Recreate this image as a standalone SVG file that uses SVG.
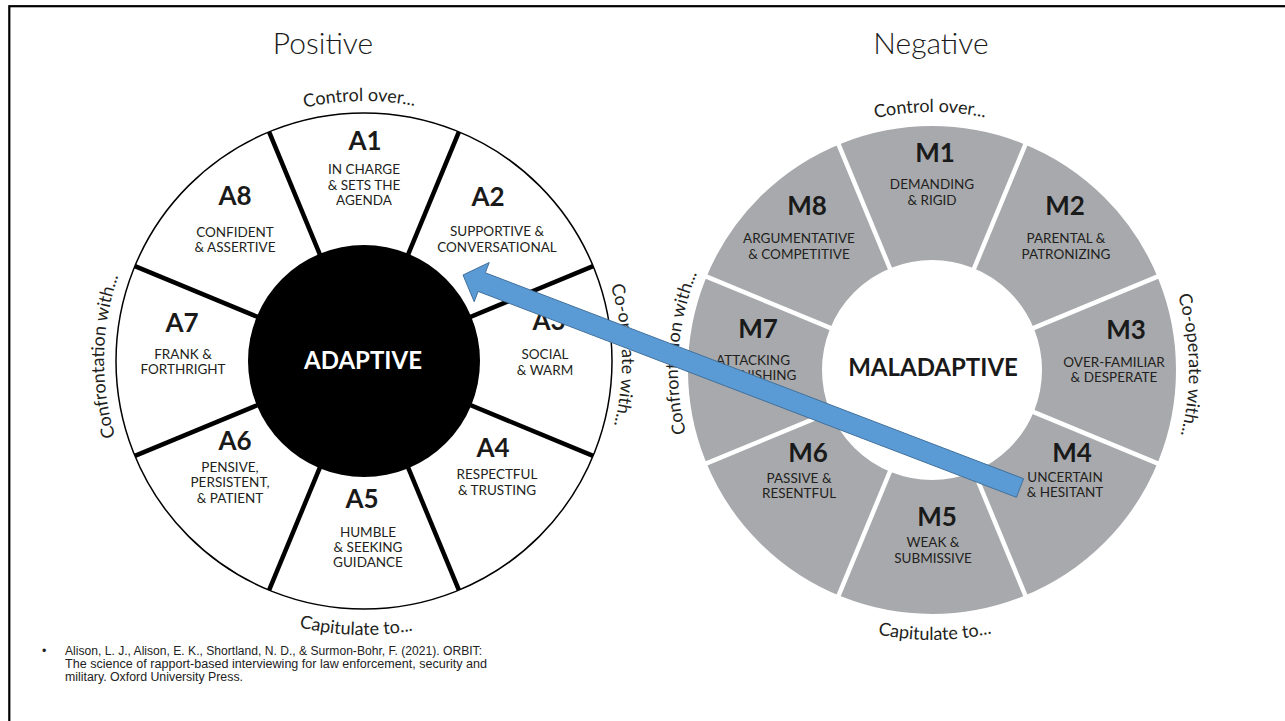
<svg xmlns="http://www.w3.org/2000/svg" width="1285" height="721" viewBox="0 0 1285 721">
<style>
text{font-family:Lato,"Noto Sans","Liberation Sans",sans-serif}
.title{font-size:30px;font-weight:300;fill:#1a1a1a;text-anchor:middle}
.arc{font-size:18px;fill:#231f20}
.code{font-size:26px;font-weight:700;text-anchor:middle;fill:#1a1a1a}
.desc{font-size:13.5px;text-anchor:middle;fill:#231f20}
.core{font-size:24px;font-weight:700;text-anchor:middle}
.cite{font-family:"Liberation Sans",Arial,sans-serif;font-size:12.5px;fill:#222}
.div{stroke:#000;stroke-width:4.5}
.gap{stroke:#fff;stroke-width:4.5}
</style>
<defs>
<path id="pTopL" d="M136.6,235.0 A260,260 0 0 1 586.9,227.1"/>
<path id="pRightL" d="M487.9,134.7 A258,258 0 0 1 498.0,581.5"/>
<path id="pBotL" d="M122.7,490.9 A274,274 0 0 0 597.1,505.0"/>
<path id="pLeftL" d="M229.7,583.6 A260,260 0 0 1 238.3,133.4"/>
<path id="pTopR" d="M707.6,242.6 A258,258 0 0 1 1154.5,239.5"/>
<path id="pRightR" d="M1056.2,145.0 A257,257 0 0 1 1064.7,590.1"/>
<path id="pBotR" d="M699.6,507.4 A270,270 0 0 0 1167.2,502.5"/>
<path id="pLeftR" d="M790.0,580.6 A254,254 0 0 1 820.6,141.7"/>
</defs>

<rect x="9.3" y="6.2" width="1300" height="730" fill="none" stroke="#000" stroke-width="2.2"/>

<text class="title" x="323" y="54">Positive</text>
<text class="title" x="931" y="54">Negative</text>

<!-- Positive wheel -->
<g id="wheel-positive">
<circle cx="364" cy="361" r="248" fill="#fff" stroke="#000" stroke-width="1.5"/>
<g transform="translate(364,361)">
<line class="div" x1="0" y1="-100" x2="0" y2="-248" transform="rotate(-22.5)"/>
<line class="div" x1="0" y1="-100" x2="0" y2="-248" transform="rotate(22.5)"/>
<line class="div" x1="0" y1="-100" x2="0" y2="-248" transform="rotate(67.5)"/>
<line class="div" x1="0" y1="-100" x2="0" y2="-248" transform="rotate(112.5)"/>
<line class="div" x1="0" y1="-100" x2="0" y2="-248" transform="rotate(157.5)"/>
<line class="div" x1="0" y1="-100" x2="0" y2="-248" transform="rotate(-157.5)"/>
<line class="div" x1="0" y1="-100" x2="0" y2="-248" transform="rotate(-112.5)"/>
<line class="div" x1="0" y1="-100" x2="0" y2="-248" transform="rotate(-67.5)"/>
</g>
<text class="arc"><textPath href="#pTopL" startOffset="50%" text-anchor="middle">Control over...</textPath></text>
<text class="arc"><textPath href="#pRightL" startOffset="50%" text-anchor="middle">Co-operate with...</textPath></text>
<text class="arc"><textPath href="#pBotL" startOffset="50%" text-anchor="middle">Capitulate to...</textPath></text>
<text class="arc"><textPath href="#pLeftL" startOffset="50%" text-anchor="middle">Confrontation with...</textPath></text>
</g>
<g id="ADAPTIVE">
<circle cx="364" cy="361" r="116" fill="#000"/>
<text class="core" x="363" y="369" fill="#fff">ADAPTIVE</text>
</g>
<g id="A1"><text class="code" x="365" y="150">A1</text><text class="desc" x="364" y="174">IN CHARGE</text><text class="desc" x="364" y="190">&amp; SETS THE</text><text class="desc" x="364" y="205">AGENDA</text></g>
<g id="A2"><text class="code" x="488" y="206">A2</text><text class="desc" x="497" y="236">SUPPORTIVE &amp;</text><text class="desc" x="497" y="252">CONVERSATIONAL</text></g>
<g id="A3"><text class="code" x="549" y="330">A3</text><text class="desc" x="545" y="359">SOCIAL</text><text class="desc" x="545" y="375">&amp; WARM</text></g>
<g id="A4"><text class="code" x="493" y="457">A4</text><text class="desc" x="497" y="479">RESPECTFUL</text><text class="desc" x="497" y="495">&amp; TRUSTING</text></g>
<g id="A5"><text class="code" x="362" y="508">A5</text><text class="desc" x="368" y="537">HUMBLE</text><text class="desc" x="368" y="552">&amp; SEEKING</text><text class="desc" x="368" y="567">GUIDANCE</text></g>
<g id="A6"><text class="code" x="235" y="450">A6</text><text class="desc" x="230" y="472">PENSIVE,</text><text class="desc" x="230" y="487">PERSISTENT,</text><text class="desc" x="230" y="503">&amp; PATIENT</text></g>
<g id="A7"><text class="code" x="182" y="332">A7</text><text class="desc" x="183" y="359">FRANK &amp;</text><text class="desc" x="183" y="374">FORTHRIGHT</text></g>
<g id="A8"><text class="code" x="235" y="205">A8</text><text class="desc" x="235" y="237">CONFIDENT</text><text class="desc" x="235" y="252">&amp; ASSERTIVE</text></g>

<!-- Negative wheel -->
<g id="wheel-negative">
<circle cx="932" cy="370" r="177" fill="none" stroke="#a7a9ac" stroke-width="134"/>
<g transform="translate(932,370)">
<line class="gap" x1="0" y1="-105" x2="0" y2="-248" transform="rotate(-22.5)"/>
<line class="gap" x1="0" y1="-105" x2="0" y2="-248" transform="rotate(22.5)"/>
<line class="gap" x1="0" y1="-105" x2="0" y2="-248" transform="rotate(67.5)"/>
<line class="gap" x1="0" y1="-105" x2="0" y2="-248" transform="rotate(112.5)"/>
<line class="gap" x1="0" y1="-105" x2="0" y2="-248" transform="rotate(157.5)"/>
<line class="gap" x1="0" y1="-105" x2="0" y2="-248" transform="rotate(-157.5)"/>
<line class="gap" x1="0" y1="-105" x2="0" y2="-248" transform="rotate(-112.5)"/>
<line class="gap" x1="0" y1="-105" x2="0" y2="-248" transform="rotate(-67.5)"/>
</g>
<text class="arc"><textPath href="#pTopR" startOffset="50%" text-anchor="middle">Control over...</textPath></text>
<text class="arc"><textPath href="#pRightR" startOffset="50%" text-anchor="middle">Co-operate with...</textPath></text>
<text class="arc"><textPath href="#pBotR" startOffset="50%" text-anchor="middle">Capitulate to...</textPath></text>
<text class="arc"><textPath href="#pLeftR" startOffset="50%" text-anchor="middle">Confrontation with...</textPath></text>
</g>
<g id="MALADAPTIVE"><text class="core" x="933" y="376" fill="#1a1a1a">MALADAPTIVE</text></g>
<g id="M1"><text class="code" x="935" y="162">M1</text><text class="desc" x="932" y="189">DEMANDING</text><text class="desc" x="932" y="205">&amp; RIGID</text></g>
<g id="M2"><text class="code" x="1065" y="215">M2</text><text class="desc" x="1066" y="243">PARENTAL &amp;</text><text class="desc" x="1066" y="259">PATRONIZING</text></g>
<g id="M3"><text class="code" x="1126" y="339">M3</text><text class="desc" x="1114" y="367">OVER-FAMILIAR</text><text class="desc" x="1114" y="382">&amp; DESPERATE</text></g>
<g id="M4"><text class="code" x="1072" y="462">M4</text><text class="desc" x="1065" y="482">UNCERTAIN</text><text class="desc" x="1065" y="497">&amp; HESITANT</text></g>
<g id="M5"><text class="code" x="937" y="526">M5</text><text class="desc" x="933" y="547">WEAK &amp;</text><text class="desc" x="933" y="563">SUBMISSIVE</text></g>
<g id="M6"><text class="code" x="808" y="462">M6</text><text class="desc" x="799" y="483">PASSIVE &amp;</text><text class="desc" x="799" y="498">RESENTFUL</text></g>
<g id="M7"><text class="code" x="758" y="338">M7</text><text class="desc" x="753" y="365">ATTACKING</text><text class="desc" x="753" y="380">&amp; PUNISHING</text></g>
<g id="M8"><text class="code" x="807" y="215">M8</text><text class="desc" x="799" y="243">ARGUMENTATIVE</text><text class="desc" x="799" y="259">&amp; COMPETITIVE</text></g>

<!-- connectors -->
<g id="connectors">
<polygon points="1023.6,478.7 485.3,272.8 489.2,262.5 463,275 474.2,301.7 478.1,291.4 1016.4,497.3" fill="#5b9bd5" stroke="#41719c" stroke-width="1"/>
</g>

<!-- citation -->
<g id="citation">
<text class="cite" x="42" y="655">•</text>
<text class="cite" x="65" y="655" textLength="417" lengthAdjust="spacingAndGlyphs">Alison, L. J., Alison, E. K., Shortland, N. D., &amp; Surmon-Bohr, F. (2021). ORBIT:</text>
<text class="cite" x="65" y="668" textLength="422" lengthAdjust="spacingAndGlyphs">The science of rapport-based interviewing for law enforcement, security and</text>
<text class="cite" x="65" y="681" textLength="178" lengthAdjust="spacingAndGlyphs">military. Oxford University Press.</text>
</g>
</svg>
